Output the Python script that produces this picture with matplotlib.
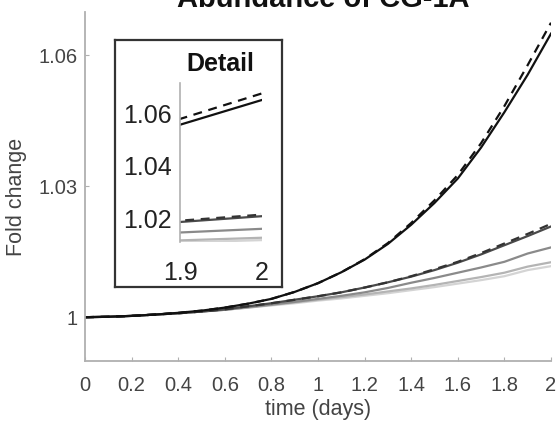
import matplotlib
matplotlib.use("Agg")
import matplotlib.pyplot as plt

plt.rcParams['font.family'] = ['Liberation Sans', 'DejaVu Sans']

# time points (days) and fold change
t = [0.0, 0.1, 0.2, 0.3, 0.4, 0.5, 0.6, 0.7, 0.8, 0.9, 1.0,
     1.1, 1.2, 1.3, 1.4, 1.5, 1.6, 1.7, 1.8, 1.9, 2.0]
black_solid = [1.0, 1.0001, 1.0003, 1.0006, 1.0010, 1.0015, 1.0022, 1.0031, 1.0042, 1.0058, 1.0078,
               1.0103, 1.0132, 1.0168, 1.0212, 1.0262, 1.0318, 1.0389, 1.0470, 1.0556, 1.0650]
black_dashed = [1.0, 1.0001, 1.0003, 1.0006, 1.0010, 1.0015, 1.0022, 1.0031, 1.0042, 1.0058, 1.0078,
                1.0103, 1.0133, 1.0170, 1.0216, 1.0268, 1.0326, 1.0399, 1.0484, 1.0578, 1.0675]
dark_solid = [1.0, 1.0001, 1.0003, 1.0006, 1.0009, 1.0013, 1.0018, 1.0025, 1.0032, 1.0040, 1.0048,
              1.0057, 1.0068, 1.0080, 1.0093, 1.0108, 1.0125, 1.0144, 1.0165, 1.0186, 1.0208]
dark_dashed = [1.0, 1.0001, 1.0003, 1.0006, 1.0009, 1.0013, 1.0018, 1.0025, 1.0032, 1.0040, 1.0048,
               1.0057, 1.0068, 1.0080, 1.0094, 1.0110, 1.0127, 1.0147, 1.0169, 1.0191, 1.0214]
mid_gray = [1.0, 1.0001, 1.0003, 1.0006, 1.0009, 1.0013, 1.0017, 1.0023, 1.0029, 1.0035, 1.0042,
            1.0049, 1.0057, 1.0067, 1.0079, 1.0090, 1.0102, 1.0114, 1.0127, 1.0146, 1.0160]
light_gray = [1.0, 1.0001, 1.0003, 1.0006, 1.0009, 1.0013, 1.0017, 1.0022, 1.0028, 1.0034, 1.0040,
              1.0046, 1.0052, 1.0059, 1.0066, 1.0074, 1.0083, 1.0092, 1.0102, 1.0116, 1.0126]
lightest_gray = [1.0, 1.0001, 1.0003, 1.0006, 1.0009, 1.0013, 1.0017, 1.0022, 1.0027, 1.0032, 1.0038,
                 1.0043, 1.0049, 1.0055, 1.0062, 1.0069, 1.0077, 1.0085, 1.0094, 1.0108, 1.0117]

xticks = [0, 0.2, 0.4, 0.6, 0.8, 1, 1.2, 1.4, 1.6, 1.8, 2]
xticklabels = ['0', '0.2', '0.4', '0.6', '0.8', '1', '1.2', '1.4', '1.6', '1.8', '2']
yticks = [1, 1.03, 1.06]
yticklabels = ['1', '1.03', '1.06']
inset_xticks = [1.9, 2]
inset_xticklabels = ['1.9', '2']
inset_yticks = [1.02, 1.04, 1.06]
inset_yticklabels = ['1.02', '1.04', '1.06']

series = [
    (lightest_gray, '#d4d4d4', '-'),
    (light_gray, '#b4b4b4', '-'),
    (mid_gray, '#8a8a8a', '-'),
    (dark_solid, '#4a4a4a', '-'),
    (dark_dashed, '#333333', (0, (4, 3))),
    (black_solid, '#111111', '-'),
    (black_dashed, '#111111', (0, (4, 3))),
]

fig = plt.figure(figsize=(5.56, 4.23), dpi=100)

# main axes
ax = fig.add_axes([0.153, 0.147, 0.838, 0.825])
for y, c, ls in series:
    ax.plot(t, y, color=c, linestyle=ls, linewidth=1.6)
ax.set_xlim(0, 2)
ax.set_ylim(0.99, 1.07)
ax.set_xticks(xticks)
ax.set_xticklabels(xticklabels)
ax.set_yticks(yticks)
ax.set_yticklabels(yticklabels)
for s in ['top', 'right']:
    ax.spines[s].set_visible(False)
for s in ['left', 'bottom']:
    ax.spines[s].set_color('#b0b0b0')
    ax.spines[s].set_linewidth(1.3)
ax.tick_params(direction='in', length=3, color='#b0b0b0', labelcolor='#444444', labelsize=14.5)
ax.tick_params(axis='x', pad=11)
ax.tick_params(axis='y', pad=5)
ax.set_xlabel('time (days)', fontsize=15.5, color='#444444')
ax.xaxis.set_label_coords(0.5, -0.11)
ax.set_ylabel('Fold change', fontsize=15.5, color='#444444')
ax.yaxis.set_label_coords(-0.125, 0.47)

# title, cut at the top edge as in the original
fig.text(323 / 556, 1 - 7 / 423, 'Abundance of CG-1A', ha='center', va='baseline',
         fontsize=21, fontweight='bold', color='#111111')

# framed inset
frame = fig.add_axes([0.207, 0.3215, 0.300, 0.584])
frame.set_xticks([])
frame.set_yticks([])
frame.set_facecolor('white')
for s in frame.spines.values():
    s.set_color('#333333')
    s.set_linewidth(1.6)
frame.text(0.63, 0.904, 'Detail', ha='center', va='center', fontsize=18,
           fontweight='bold', transform=frame.transAxes, color='#111111')

axi = fig.add_axes([0.324, 0.428, 0.147, 0.376])
for y, c, ls in series:
    axi.plot(t, y, color=c, linestyle=ls, linewidth=1.6)
axi.set_xlim(1.9, 2.0)
axi.set_ylim(1.011, 1.0715)
axi.set_xticks(inset_xticks)
axi.set_xticklabels(inset_xticklabels)
axi.set_yticks(inset_yticks)
axi.set_yticklabels(inset_yticklabels)
axi.patch.set_alpha(0)
for s in ['top', 'right', 'bottom']:
    axi.spines[s].set_visible(False)
axi.spines['left'].set_color('#b0b0b0')
axi.spines['left'].set_linewidth(1.2)
axi.tick_params(direction='in', length=0, labelcolor='#222222', labelsize=18)
axi.tick_params(axis='x', pad=14)
axi.tick_params(axis='y', pad=6)

fig.savefig('out.png', dpi=100)
